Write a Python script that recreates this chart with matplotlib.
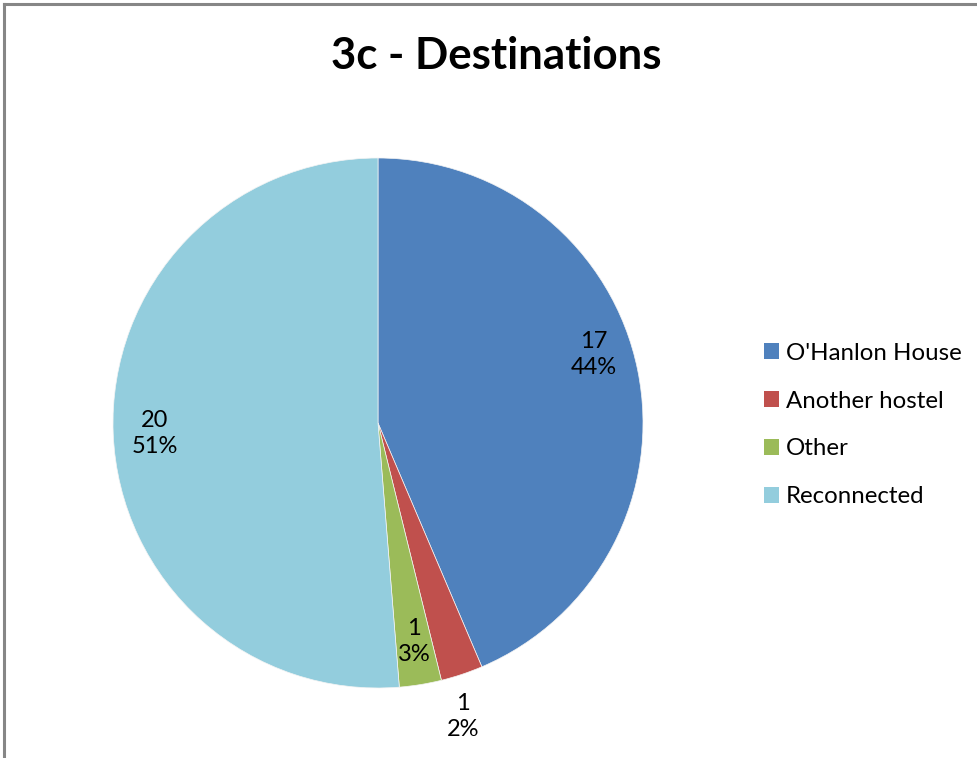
import matplotlib.pyplot as plt
from matplotlib.lines import Line2D
from matplotlib.patches import Patch

plt.rcParams['font.family'] = ['Lato', 'DejaVu Sans']

# Datos del gráfico
categories = ["O'Hanlon House", 'Another hostel', 'Other', 'Reconnected']
counts = [17, 1, 1, 20]
pct_labels = ['44%', '2%', '3%', '51%']
colors = ['#4F81BD', '#C0504D', '#9BBB59', '#93CDDD']
# posición de las etiquetas (radio = 1)
label_pos = [(0.815, 0.257), (0.321, -1.106), (0.136, -0.823), (-0.842, -0.038)]

W, H = 977, 758
fig = plt.figure(figsize=(W / 100, H / 100), dpi=100)

# marco gris (sólo arriba e izquierda visibles)
fig.add_artist(Line2D([4 / W, 4 / W], [0, 1 - 4 / H], color='#868686', lw=2.2))
fig.add_artist(Line2D([4 / W, 976 / W], [1 - 4 / H, 1 - 4 / H], color='#868686', lw=2.2))

cx, cy, r = 378, 423, 265
ax = fig.add_axes([(cx - r) / W, (H - cy - r) / H, 2 * r / W, 2 * r / H])
ax.pie(counts, colors=colors, startangle=90, counterclock=False,
       wedgeprops=dict(edgecolor='#F4F4F4', linewidth=0.5))
ax.set_xlim(-1, 1)
ax.set_ylim(-1, 1)
ax.set_aspect('equal')
ax.axis('off')

for (x, y), n, p in zip(label_pos, counts, pct_labels):
    ax.text(x, y, f'{n}\n{p}', ha='center', va='center', fontsize=17,
            linespacing=1.3, clip_on=False)

fig.text(496 / W, 1 - 56 / H, '3c - Destinations', ha='center', va='center',
         fontsize=31.5, fontweight='bold')

handles = [Patch(facecolor=c, edgecolor='none') for c in colors]
fig.legend(handles, categories, loc='center left', bbox_to_anchor=(764 / W, 1 - 425 / H),
           frameon=False, fontsize=17.3, handlelength=0.62, handleheight=0.62,
           handletextpad=0.3, labelspacing=1.12, borderpad=0, borderaxespad=0)

fig.savefig('out.png', dpi=100)
